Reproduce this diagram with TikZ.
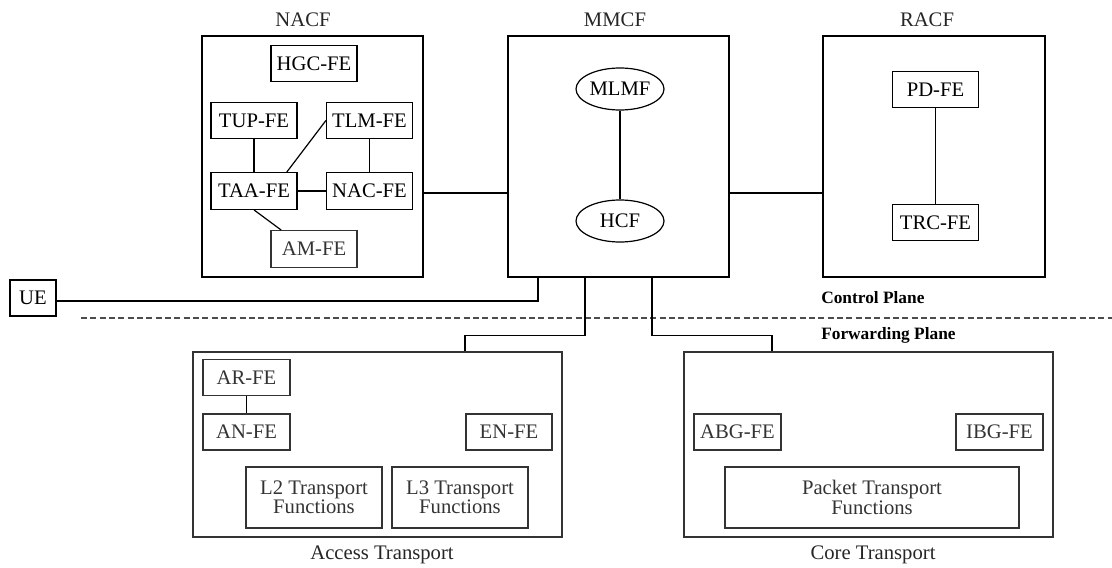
\documentclass[tikz,border=0pt]{standalone}
\usepackage{fontspec}
\setmainfont{Liberation Serif}
\usetikzlibrary{shapes.geometric}
\begin{document}
\begin{tikzpicture}[x=0.75pt,y=-0.75pt,
  every node/.style={font=\fontsize{15.5}{13.5}\selectfont, inner sep=0pt},
  wire/.style={line width=0.9pt, black},
  grp/.style={draw, line width=0.9pt, rectangle},
  fe/.style={draw, line width=0.9pt, rectangle, minimum width=64.5pt, minimum height=27.5pt},
  lowfe/.style={fe, draw=black!80, text=black!80},
  fn/.style={draw, line width=0.9pt, ellipse, minimum width=66pt, minimum height=31.5pt},
  tag/.style={text=black!85},
  plane/.style={font=\fontsize{13}{13}\bfseries\selectfont, anchor=west}]
\useasboundingbox (0,0) rectangle (1112,567);

% control plane groups
\node[grp, minimum width=165.75pt, minimum height=180.75pt] (NACF) at (312.5,156.5) {};
\node[grp, minimum width=165.75pt, minimum height=180.75pt] (MMCF) at (618.5,156.5) {};
\node[grp, minimum width=166.5pt, minimum height=180.75pt] (RACF) at (934,156.5) {};
\node[tag] (lNACF) at (303,20) {NACF};
\node[tag] (lMMCF) at (615,20) {MMCF};
\node[tag] (lRACF) at (927,20) {RACF};

% NACF functional entities
\node[fe] (HGC) at (314,63.5) {HGC-FE};
\node[fe] (TUP) at (254,120.5) {TUP-FE};
\node[fe] (TLM) at (369.5,120.5) {TLM-FE};
\node[fe] (TAA) at (254,191) {TAA-FE};
\node[fe] (NAC) at (369.5,191) {NAC-FE};
\node[lowfe] (AM) at (314,249) {AM-FE};
\draw[wire] (TUP) -- (TAA);
\draw[wire] (TAA.30) -- (TLM.west);
\draw[wire] (TLM) -- (NAC);
\draw[wire] (TAA) -- (NAC);
\draw[wire] (TAA.south) -- (AM.150);

% MMCF functions
\node[fn] (MLMF) at (620,89) {MLMF};
\node[fn] (HCF) at (620,221) {HCF};
\draw[wire] (MLMF) -- (HCF);

% RACF functional entities
\node[fe] (PD) at (935.5,89.5) {PD-FE};
\node[fe] (TRC) at (935.5,222.5) {TRC-FE};
\draw[wire] (PD) -- (TRC);

% links between the control groups
\draw[wire] ([yshift=-27.4pt]NACF.east) -- ([yshift=-27.4pt]MMCF.west);
\draw[wire] ([yshift=-27.4pt]MMCF.east) -- ([yshift=-27.4pt]RACF.west);

% user equipment
\node[fe, minimum width=34.5pt, minimum height=27pt] (UE) at (33,298) {UE};
\draw[wire] ([yshift=-2.25pt]UE.east) -| ([xshift=-60.4pt]MMCF.south);

% plane separator
\coordinate (sepL) at (81,318);
\coordinate (sepR) at (1112,318);
\draw[line width=1.4pt, black!70, dash pattern=on 4.5pt off 2.5pt] (sepL) -- (sepR);
\node[plane] (cp) at (821,298) {Control Plane};
\node[plane] (fp) at (821,335) {Forwarding Plane};

% transport groups
\node[grp, draw=black!80, minimum width=276.75pt, minimum height=138.75pt] (AT) at (377.5,444.5) {};
\node[grp, draw=black!80, minimum width=276.75pt, minimum height=138.75pt] (CT) at (868.5,444.5) {};
\node[tag] (lAT) at (382,555) {Access Transport};
\node[tag] (lCT) at (873,555) {Core Transport};
\draw[wire] ([xshift=-25.1pt]MMCF.south) -- ++(0,58) -| ([xshift=65.6pt]AT.north);
\draw[wire] ([xshift=25.1pt]MMCF.south) -- ++(0,58) -| ([xshift=-72.4pt]CT.north);

% access transport entities
\node[lowfe, minimum width=65.25pt] (AR) at (246.5,377.5) {AR-FE};
\node[lowfe, minimum width=65.25pt, minimum height=27pt] (AN) at (246.5,432) {AN-FE};
\node[lowfe, minimum height=27pt] (EN) at (509,432) {EN-FE};
\node[lowfe, minimum width=102pt, minimum height=45.75pt, align=center] (L2) at (314,497.5) {L2 Transport\\Functions};
\node[lowfe, minimum width=102pt, minimum height=45.75pt, align=center] (L3) at (460,497.5) {L3 Transport\\Functions};
\draw[wire] (AR) -- (AN);

% core transport entities
\node[lowfe, minimum width=65.25pt, minimum height=27pt] (ABG) at (737.5,432) {ABG-FE};
\node[lowfe, minimum width=65.25pt, minimum height=27pt] (IBG) at (999.5,432) {IBG-FE};
\node[lowfe, minimum width=220.5pt, minimum height=45.75pt, align=center] (PT) at (872,497.5) {Packet Transport\\Functions};
\end{tikzpicture}
\end{document}
